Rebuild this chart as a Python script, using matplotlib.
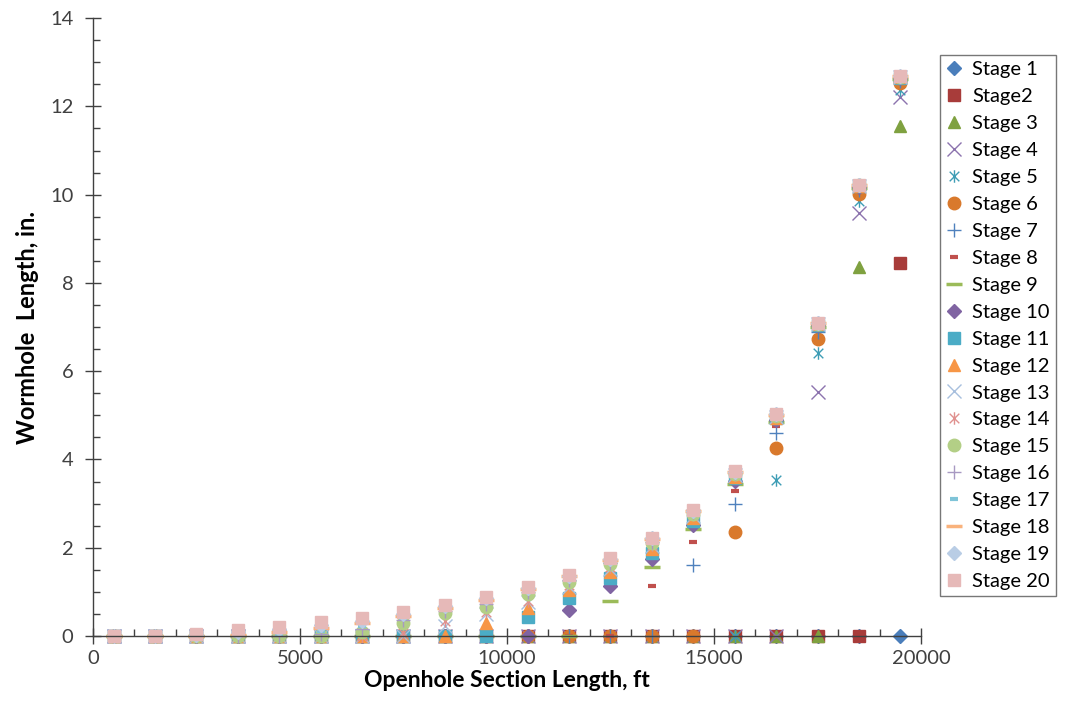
import matplotlib
matplotlib.use("Agg")
import matplotlib.pyplot as plt
from matplotlib.path import Path
from matplotlib.ticker import MultipleLocator

# openhole section positions, ft
x_pos = [500, 1500, 2500, 3500, 4500, 5500, 6500, 7500, 8500, 9500,
         10500, 11500, 12500, 13500, 14500, 15500, 16500, 17500, 18500, 19500]

# wormhole length per stage, in.
stage_01 = [0]*20
stage_02 = [0]*19 + [8.45]
stage_03 = [0]*18 + [8.35, 11.55]
stage_04 = [0]*17 + [5.53, 9.58, 12.22]
stage_05 = [0]*16 + [3.53, 6.41, 9.85, 12.38]
stage_06 = [0]*15 + [2.35, 4.26, 6.73, 10.02, 12.53]
stage_07 = [0]*14 + [1.61, 2.99, 4.60, 6.89, 10.10, 12.58]
stage_08 = [0]*13 + [1.13, 2.14, 3.29, 4.76, 6.97, 10.14, 12.61]
stage_09 = [0]*12 + [0.80, 1.57, 2.42, 3.44, 4.85, 7.01, 10.16, 12.63]
stage_10 = [0]*11 + [0.58, 1.13, 1.74, 2.51, 3.52, 4.90, 7.04, 10.18, 12.64]
stage_11 = [0]*10 + [0.42, 0.85, 1.31, 1.88, 2.60, 3.57, 4.93, 7.05, 10.19, 12.65]
stage_12 = [0]*9 + [0.29, 0.63, 1.04, 1.45, 1.97, 2.67, 3.61, 4.95, 7.06, 10.20, 12.66]
stage_13 = [0]*8 + [0.22, 0.49, 0.76, 1.12, 1.52, 2.03, 2.72, 3.64, 4.97, 7.07, 10.20, 12.66]
stage_14 = [0]*7 + [0.06, 0.34, 0.54, 0.80, 1.16, 1.56, 2.06, 2.74, 3.65, 4.98, 7.08, 10.21, 12.67]
stage_15 = [0]*6 + [0.10, 0.30, 0.52, 0.66, 0.95, 1.23, 1.62, 2.10, 2.77, 3.67, 4.99, 7.08, 10.21, 12.67]
stage_16 = [0]*5 + [0.05, 0.15, 0.36, 0.57, 0.72, 1.00, 1.28, 1.66, 2.14, 2.80, 3.69, 5.00, 7.09, 10.21, 12.67]
stage_17 = [0]*4 + [0.04, 0.12, 0.22, 0.41, 0.61, 0.77, 1.04, 1.32, 1.70, 2.17, 2.82, 3.70, 5.01, 7.09, 10.22, 12.68]
stage_18 = [0]*3 + [0.03, 0.10, 0.19, 0.29, 0.46, 0.64, 0.82, 1.07, 1.35, 1.73, 2.19, 2.83, 3.71, 5.01, 7.10, 10.22, 12.68]
stage_19 = [0]*2 + [0.02, 0.08, 0.16, 0.25, 0.35, 0.50, 0.67, 0.86, 1.09, 1.37, 1.75, 2.21, 2.84, 3.72, 5.02, 7.10, 10.22, 12.68]
stage_20 = [0, 0.01, 0.05, 0.13, 0.21, 0.31, 0.41, 0.54, 0.70, 0.89, 1.11, 1.38, 1.76, 2.22, 2.85, 3.73, 5.02, 7.10, 10.22, 12.68]

stages = [stage_01, stage_02, stage_03, stage_04, stage_05, stage_06, stage_07,
          stage_08, stage_09, stage_10, stage_11, stage_12, stage_13, stage_14,
          stage_15, stage_16, stage_17, stage_18, stage_19, stage_20]
labels = ["Stage 1", "Stage2"] + ["Stage %d" % i for i in range(3, 21)]

# excel-like asterisk: X plus vertical bar
aster = Path([(-1, -1), (1, 1), (-1, 1), (1, -1), (0, -1.3), (0, 1.3)],
             [Path.MOVETO, Path.LINETO, Path.MOVETO, Path.LINETO, Path.MOVETO, Path.LINETO])

colors = ['#4A7EBB', '#A83C3A', '#7FA140', '#8C73AE', '#3E9DB5', '#D9792C',
          '#4F81BD', '#C0504D', '#9BBB59', '#8064A2', '#4BACC6', '#F79646',
          '#A7BFDE', '#E0908E', '#B3CF86', '#A899C2', '#7FC4D8', '#F9B27C',
          '#B9CDE5', '#E6B9B8']
markers = ['D', 's', '^', 'x', aster, 'o', '+', '_', '_', 'D',
           's', '^', 'x', aster, 'o', '+', '_', '_', 'D', 's']
sizes = [7, 9, 9, 10, 9, 9, 10, 6, 11, 7, 9, 9, 10, 9, 9, 10, 6, 11, 7, 9]
widths = [1, 1, 1, 1, 1, 1, 1, 3, 2.5, 1, 1, 1, 1, 1, 1, 1, 3, 2.5, 1, 1]

plt.rcParams['font.family'] = ['Lato', 'DejaVu Sans']

fig = plt.figure(figsize=(10.65, 7.21), dpi=100)
ax = fig.add_axes([0.0873, 0.1179, 0.7775, 0.857])

for vals, lab, c, m, s, w in zip(stages, labels, colors, markers, sizes, widths):
    ax.plot(x_pos, vals, linestyle='none', marker=m, markersize=s, color=c,
            markeredgecolor=c, markeredgewidth=w, label=lab, clip_on=False)

ax.set_xlim(0, 20000)
ax.set_ylim(0, 14)
ax.xaxis.set_major_locator(MultipleLocator(5000))
ax.xaxis.set_minor_locator(MultipleLocator(1000))
ax.yaxis.set_major_locator(MultipleLocator(2))
ax.yaxis.set_minor_locator(MultipleLocator(0.5))

for side in ['top', 'right']:
    ax.spines[side].set_visible(False)
for side in ['left', 'bottom']:
    ax.spines[side].set_color('#404040')
    ax.spines[side].set_linewidth(1.0)

ax.tick_params(which='major', direction='inout', length=12, width=1, color='#404040',
               labelsize=14.5, labelcolor='#404040')
ax.tick_params(which='minor', direction='in', length=5, width=1, color='#404040')
ax.tick_params(axis='x', which='major', pad=4)
ax.tick_params(axis='y', which='major', pad=8)

ax.set_xlabel("Openhole Section Length, ft", fontsize=16.5, fontweight='bold', labelpad=2)
ax.set_ylabel("Wormhole  Length, in.", fontsize=17, fontweight='bold', labelpad=8)

leg = fig.legend(loc='upper left', bbox_to_anchor=(0.8826, 0.924), fontsize=14.5,
                 frameon=True, fancybox=False, borderpad=0.3, labelspacing=0.49,
                 handlelength=0.8, handletextpad=0.5, borderaxespad=0, numpoints=1)
leg.get_frame().set_edgecolor('#555555')
leg.get_frame().set_linewidth(1.0)

fig.savefig("out.png", dpi=100)
